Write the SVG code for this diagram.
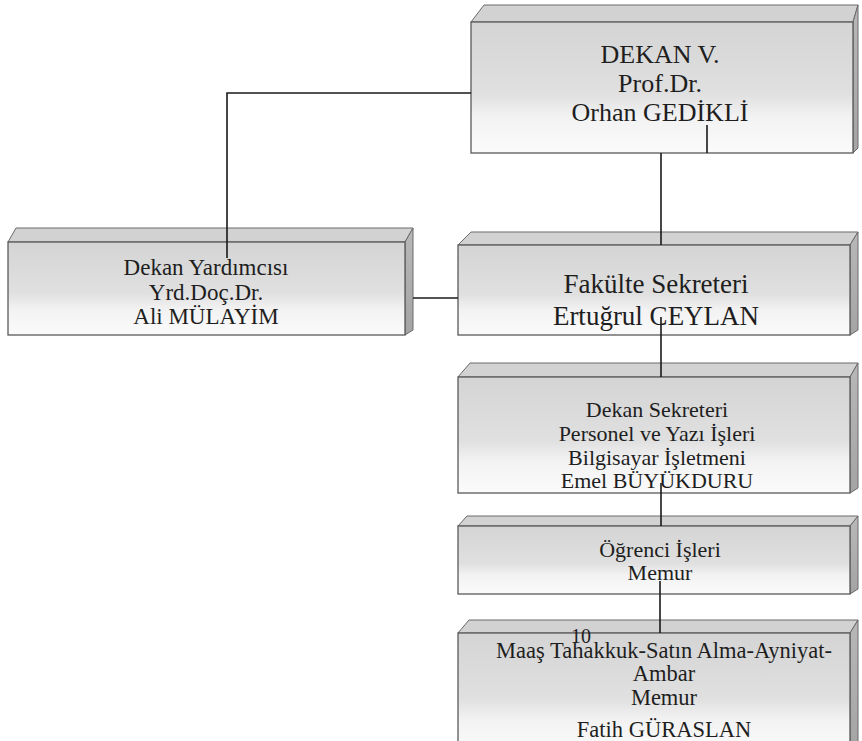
<svg xmlns="http://www.w3.org/2000/svg" width="862" height="741" viewBox="0 0 862 741">
<defs>
<linearGradient id="gFront" x1="0" y1="0" x2="0" y2="1">
<stop offset="0" stop-color="#d4d4d4"/>
<stop offset="0.55" stop-color="#e0e0e0"/>
<stop offset="0.72" stop-color="#f2f2f2"/>
<stop offset="1" stop-color="#fbfbfb"/>
</linearGradient>
<linearGradient id="gSide" x1="0" y1="0" x2="0" y2="1">
<stop offset="0" stop-color="#b8b8b8"/>
<stop offset="1" stop-color="#a4a4a4"/>
</linearGradient>
</defs>
<style>
.front{fill:url(#gFront);stroke:#5a5a5a;stroke-width:1.3}
.top{fill:#d2d2d2;stroke:#6a6a6a;stroke-width:1}
.side{fill:url(#gSide);stroke:#6a6a6a;stroke-width:1}
.t{font-family:"Liberation Serif","Times New Roman",serif;fill:#1e1e1e;text-anchor:middle}
.conn{stroke:#1a1a1a;stroke-width:1.6;fill:none}
</style>
<rect width="862" height="741" fill="#ffffff"/>

<g id="dekan">
<polygon class="top" points="471,22 484,5 858,5 853,22"/>
<polygon class="side" points="853,22 858,5 858,148 853,153"/>
<rect class="front" x="471" y="22" width="382" height="131"/>
<text class="t" font-size="26" x="660" y="63">DEKAN V.</text>
<text class="t" font-size="26" x="660" y="92">Prof.Dr.</text>
<text class="t" font-size="26" x="660" y="121">Orhan GEDİKLİ</text>
</g>

<g id="dekan-yardimcisi">
<polygon class="top" points="8,242 16,228 413,228 405,242"/>
<polygon class="side" points="405,242 413,228 413,330 405,335"/>
<rect class="front" x="8" y="242" width="397" height="93"/>
<text class="t" font-size="23" x="206" y="275">Dekan Yardımcısı</text>
<text class="t" font-size="23" x="206" y="300">Yrd.Doç.Dr.</text>
<text class="t" font-size="23" x="206" y="324">Ali MÜLAYİM</text>
</g>

<g id="fakulte-sekreteri">
<polygon class="top" points="458,245 471,232 858,232 850,245"/>
<polygon class="side" points="850,245 858,232 858,330 850,335"/>
<rect class="front" x="458" y="245" width="392" height="90"/>
<text class="t" font-size="27" x="656" y="293">Fakülte Sekreteri</text>
<text class="t" font-size="27" x="656" y="325">Ertuğrul CEYLAN</text>
</g>

<g id="dekan-sekreteri">
<polygon class="top" points="458,377 470,363 858,363 850,377"/>
<polygon class="side" points="850,377 858,363 858,488 850,493"/>
<rect class="front" x="458" y="377" width="392" height="116"/>
<text class="t" font-size="22" x="657" y="417">Dekan Sekreteri</text>
<text class="t" font-size="22" x="657" y="441">Personel ve Yazı İşleri</text>
<text class="t" font-size="22" x="657" y="465">Bilgisayar İşletmeni</text>
<text class="t" font-size="22" x="657" y="488">Emel BÜYÜKDURU</text>
</g>

<g id="ogrenci-isleri">
<polygon class="top" points="458,526 467,516 858,516 850,526"/>
<polygon class="side" points="850,526 858,516 858,589 850,594"/>
<rect class="front" x="458" y="526" width="392" height="68"/>
<text class="t" font-size="22" x="660" y="557">Öğrenci İşleri</text>
<text class="t" font-size="22" x="660" y="580">Memur</text>
</g>

<g id="maas-tahakkuk">
<polygon class="top" points="458,633 469,620 858,620 850,633"/>
<polygon class="side" points="850,633 858,620 858,745 850,750"/>
<rect class="front" x="458" y="633" width="392" height="120"/>
<text class="t" font-size="22.5" x="664" y="658">Maaş Tahakkuk-Satın Alma-Ayniyat-</text>
<text class="t" font-size="22.5" x="664" y="681">Ambar</text>
<text class="t" font-size="22.5" x="664" y="705">Memur</text>
<text class="t" font-size="22.5" x="664" y="737">Fatih GÜRASLAN</text>
<text class="t" font-size="20" x="581" y="643">10</text>
</g>

<g id="connectors">
<polyline class="conn" points="471,93 227,93 227,258"/>
<line class="conn" x1="707" y1="125" x2="707" y2="153" stroke-width="1"/>
<line class="conn" x1="661" y1="153" x2="661" y2="245"/>
<line class="conn" x1="413" y1="298" x2="458" y2="298"/>
<line class="conn" x1="661" y1="317" x2="661" y2="377"/>
<line class="conn" x1="661" y1="483" x2="661" y2="526"/>
<line class="conn" x1="660" y1="581" x2="660" y2="633"/>
</g>
</svg>
